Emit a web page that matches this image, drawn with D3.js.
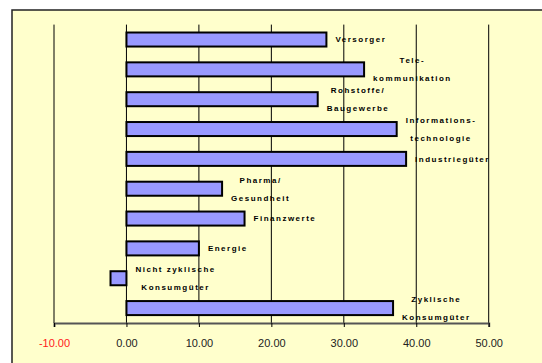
<!DOCTYPE html>
<html>
<head>
<meta charset="utf-8">
<script src="https://cdn.jsdelivr.net/npm/d3@7"></script>
<style>
  body { margin: 0; background: #fff; }
  svg { display: block; }
</style>
</head>
<body>
<div id="chart"></div>
<script>
// sector performance (%), top to bottom
var categories = ["Versorger", "Telekommunikation", "Rohstoffe/Baugewerbe", "Informationstechnologie",
    "Industriegüter", "Pharma/Gesundheit", "Finanzwerte", "Energie",
    "Nicht zyklische Konsumgüter", "Zyklische Konsumgüter"];
var labelLines = [["Versorger"], ["Tele-", "kommunikation"], ["Rohstoffe/", "Baugewerbe"],
    ["Informations-", "technologie"], ["Industriegüter"], ["Pharma/", "Gesundheit"],
    ["Finanzwerte"], ["Energie"], ["Nicht  zyklische", "Konsumgüter"], ["Zyklische", "Konsumgüter"]];
var values = [27.6, 32.8, 26.4, 37.3, 38.6, 13.2, 16.3, 10.0, -2.2, 36.8];
var tickValues = [-10, 0, 10, 20, 30, 40, 50];

var width = 542, height = 363;

var svg = d3.select("#chart").append("svg")
    .attr("width", width)
    .attr("height", height);

// panel background
svg.append("rect")
    .attr("x", 12).attr("y", 10)
    .attr("width", width).attr("height", height)
    .attr("fill", "#FFFFCC")
    .attr("stroke", "#222")
    .attr("stroke-width", 1.5);

var plotTop = 24.6, plotBottom = 323;

var x = d3.scaleLinear().domain([-10, 50]).range([54, 488.7]);
var y = d3.scaleBand().domain(categories)
    .range([plotTop, plotBottom])
    .paddingInner(0.53).paddingOuter(0.265);

// vertical gridlines
svg.append("g").selectAll("line")
    .data(tickValues)
    .enter().append("line")
    .attr("x1", d => x(d)).attr("x2", d => x(d))
    .attr("y1", plotTop).attr("y2", plotBottom)
    .attr("stroke", "#000")
    .attr("stroke-width", 1);

// bars
svg.append("g").selectAll("rect")
    .data(values)
    .enter().append("rect")
    .attr("x", d => x(Math.min(0, d)))
    .attr("y", (d, i) => y(categories[i]))
    .attr("width", d => Math.abs(x(d) - x(0)))
    .attr("height", y.bandwidth())
    .attr("fill", "#9999FF")
    .attr("stroke", "#000")
    .attr("stroke-width", 2);

// data labels (category names), to the right of the bar end
var labels = svg.append("g").selectAll("g")
    .data(values)
    .enter().append("g")
    .attr("transform", function(d, i) {
        var left = x(Math.max(0, d)) + 9;
        var cy = y(categories[i]) + y.bandwidth() / 2;
        return "translate(" + left + "," + cy + ")";
    });

labels.each(function(d, i) {
    var g = d3.select(this);
    var lines = labelLines[i];
    var texts = g.selectAll("text").data(lines).enter().append("text")
        .attr("y", (t, j) => lines.length == 1 ? 0 : (j == 0 ? -9 : 9))
        .attr("dy", "0.35em")
        .attr("font-family", "Arial, 'Liberation Sans', sans-serif")
        .attr("font-size", "8px")
        .attr("font-weight", "bold")
        .attr("letter-spacing", "1.5px")
        .attr("fill", "#000")
        .text(t => t);
    // center lines within the label block
    var widths = [];
    texts.each(function() { widths.push(this.getComputedTextLength()); });
    var maxW = d3.max(widths);
    texts.attr("x", (t, j) => (maxW - widths[j]) / 2);
});

// x axis
var xAxis = d3.axisBottom(x)
    .tickValues(tickValues)
    .tickFormat(d => d.toFixed(2))
    .tickSize(4)
    .tickPadding(12);

var axisG = svg.append("g")
    .attr("transform", "translate(0," + plotBottom + ")")
    .call(xAxis);

axisG.select(".domain")
    .attr("stroke", "#555")
    .attr("stroke-width", 2);
axisG.selectAll(".tick line").attr("stroke", "#000");
axisG.selectAll(".tick text")
    .attr("font-family", "Arial, 'Liberation Sans', sans-serif")
    .attr("font-size", "11px")
    .attr("fill", d => d < 0 ? "#FF2020" : "#222");
</script>
</body>
</html>
